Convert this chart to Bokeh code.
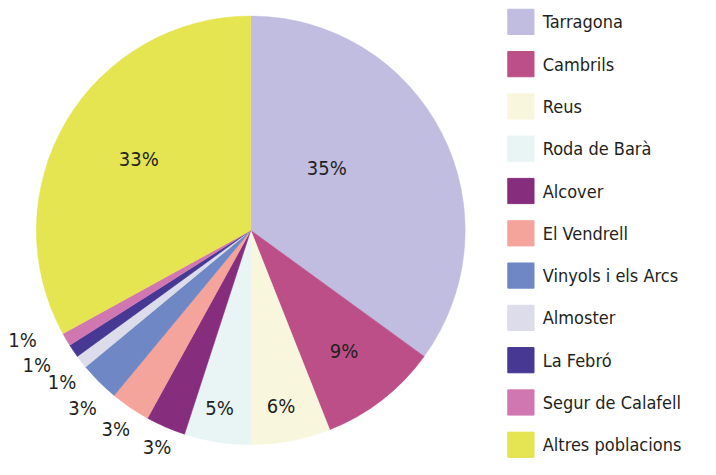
import math
from bokeh.plotting import figure
from bokeh.models import ColumnDataSource, Range1d
from bokeh.core.properties import value
from bokeh.embed import file_html
from bokeh.resources import INLINE

# ---- data ----
categories = ["Tarragona", "Cambrils", "Reus", "Roda de Barà", "Alcover", "El Vendrell",
              "Vinyols i els Arcs", "Almoster", "La Febró", "Segur de Calafell", "Altres poblacions"]
shares = [35, 9, 6, 5, 3, 3, 3, 1, 1, 1, 33]
labels = ["35%", "9%", "6%", "5%", "3%", "3%", "3%", "1%", "1%", "1%", "33%"]

# ---- styles ----
colors = ["#c1bde0", "#bc4f87", "#f8f7de", "#e9f4f4", "#862d7e", "#f4a49b",
          "#6f88c5", "#dcdcea", "#463893", "#d077b1", "#e5e451"]
label_radius = [0.46, 0.71, 0.83, 0.84, 1.10, 1.12, 1.14, 1.13, 1.18, 1.18, 0.62]
label_shift_deg = [-12.5, 0, 1, 1, 0, 0, -1.5, -1, 2, 5, 2]
FONT = "DejaVu Sans Condensed"
TEXT_COLOR = "#231f20"

S = 0.97                 # overall scale to fit the 700x459 canvas
PX = 221.0 * S           # pixels per data unit (pie radius)
W, H = 700, 459
cx, cy = 258.0 * S, 237.0 * S  # pie centre in canvas pixels (from top-left)

total = float(sum(shares))
starts, ends, lx, ly = [], [], [], []
cum = 0.0
for i, s in enumerate(shares):
    a0 = math.pi / 2 - 2 * math.pi * cum / total
    cum += s
    a1 = math.pi / 2 - 2 * math.pi * cum / total
    starts.append(a0)
    ends.append(a1)
    mid = (a0 + a1) / 2 - math.radians(label_shift_deg[i])
    lx.append(label_radius[i] * math.cos(mid))
    ly.append(label_radius[i] * math.sin(mid))

src = ColumnDataSource(dict(start=starts, end=ends, color=colors, lx=lx, ly=ly,
                            label=labels, cat=categories))

p = figure(width=W, height=H, output_backend="svg", toolbar_location=None,
           x_range=Range1d(-cx / PX, (W - cx) / PX), y_range=Range1d(-(H - cy) / PX, cy / PX),
           min_border=0)
p.axis.visible = False
p.grid.visible = False
p.outline_line_color = None
p.background_fill_color = "white"
p.border_fill_color = "white"

p.wedge(x=0, y=0, radius=1.0, start_angle="start", end_angle="end", direction="clock",
        fill_color="color", line_color="color", line_width=0.5, source=src)

p.text(x="lx", y="ly", text="label", source=src, text_font=value(FONT),
       text_font_size="20px", text_color=TEXT_COLOR, text_align="center",
       text_baseline="middle")

# legend drawn as glyphs
def px_to_x(px):
    return (px * S - cx) / PX

def py_to_y(py):
    return (cy - py * S) / PX

n = len(categories)
leg_x = [px_to_x(536.5)] * n
leg_y = [py_to_y(22.0 + 43.6 * i) for i in range(n)]
leg_tx = [px_to_x(559.0)] * n
leg_src = ColumnDataSource(dict(x=leg_x, y=leg_y, color=colors, tx=leg_tx, cat=categories))
p.rect(x="x", y="y", width=27 * S / PX, height=26 * S / PX, fill_color="color",
       line_color="color", source=leg_src)
p.text(x="tx", y="y", text="cat", source=leg_src, text_font=value(FONT),
       text_font_size="18px", text_color=TEXT_COLOR, text_align="left",
       text_baseline="middle")

open("out.html", "w").write(file_html(p, INLINE))
